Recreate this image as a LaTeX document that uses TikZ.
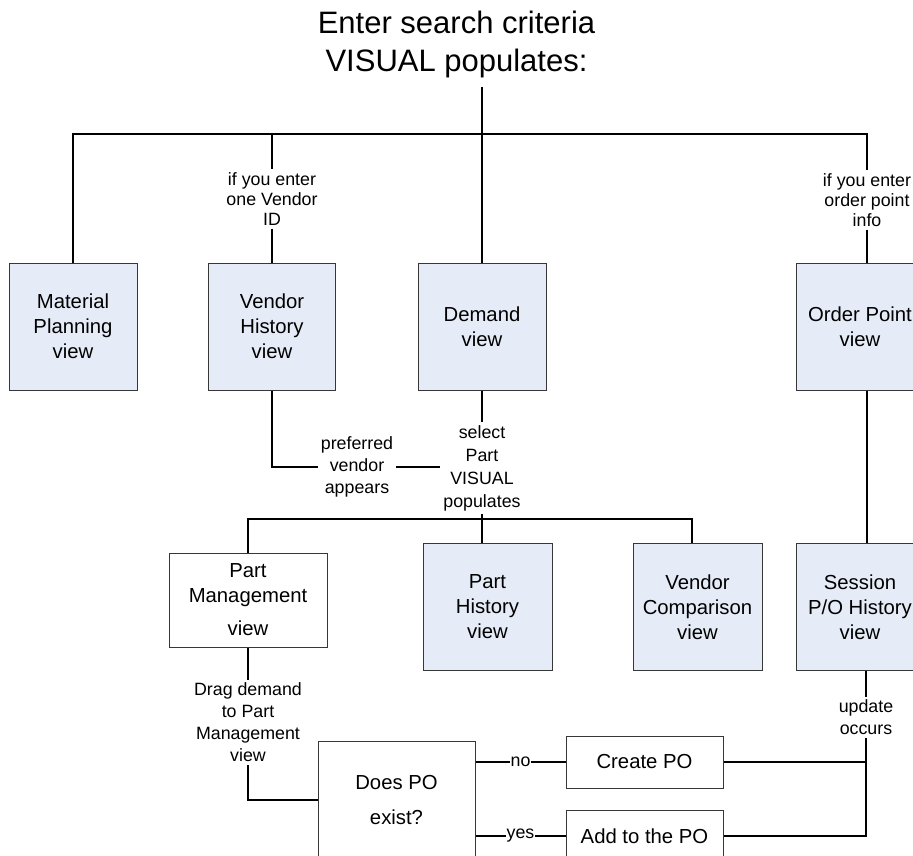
\documentclass[tikz,border=0pt]{standalone}
\usepackage{fontspec}
\setmainfont{Liberation Sans}
\definecolor{boxfill}{RGB}{230,236,247}
\definecolor{boxline}{RGB}{55,55,55}
\tikzset{
  viewbox/.style={draw=boxline, line width=1pt, fill=boxfill, minimum width=128pt,
    minimum height=127pt, align=center, inner sep=0pt, font=\fontsize{20.3}{25}\selectfont},
  whitebox/.style={draw=boxline, line width=1pt, fill=white, align=center, inner sep=0pt,
    font=\fontsize{20.3}{25}\selectfont},
  lbl/.style={align=center, inner sep=3pt, font=\fontsize{17.8}{22}\selectfont},
  toplbl/.style={lbl, font=\fontsize{17.8}{20}\selectfont},
  edgelbl/.style={fill=white, inner sep=1pt, font=\fontsize{17.8}{20}\selectfont},
  conn/.style={line width=1.7pt, black}
}
\begin{document}
\begin{tikzpicture}[x=1pt, y=-1pt]
\useasboundingbox (0,0) rectangle (913,856);
\clip (0,0) rectangle (913,856);

% title
\node[align=center, inner sep=0pt, font=\fontsize{31}{38}\selectfont] (title) at (456.5,44)
  {Enter search criteria\\VISUAL populates:};
\coordinate (t0) at (482,87);
\coordinate (j0) at (482,134);
\coordinate (bl) at (73,134);
\coordinate (jv) at (272,134);
\coordinate (br) at (867,134);

% top row
\node[viewbox] (mp) at (73,326.5) {Material\\Planning\\view};
\node[viewbox, minimum width=127pt] (vh) at (272,326.5) {Vendor\\History\\view};
\node[viewbox] (dm) at (482,326.5) {Demand\\view};
\node[viewbox] (op) at (860,326.5) {Order Point\\view};

\node[toplbl] (lvh) at (272,199) {if you enter\\one Vendor\\ID};
\node[toplbl] (lop) at (867,200) {if you enter\\order point\\info};

% middle labels
\node[lbl] (lpv) at (357,467) {preferred\\vendor\\appears};
\node[lbl, font=\fontsize{17.8}{23}\selectfont] (lsp) at (482,468) {select\\Part\\VISUAL\\populates};
\coordinate (j2) at (482,519);
\coordinate (b2l) at (248,519);
\coordinate (b2r) at (692,519);

% second row
\node[whitebox, minimum width=158pt, minimum height=94pt] (pm) at (248,600)
  {Part\\Management\\[8pt]view};
\node[viewbox, minimum width=129pt] (ph) at (487.5,607) {Part\\History\\view};
\node[viewbox, minimum width=129pt] (vc) at (697.5,607) {Vendor\\Comparison\\view};
\node[viewbox] (ss) at (860,607) {Session\\P/O History\\view};

% bottom
\node[lbl] (ldr) at (248,722.5) {Drag demand\\to Part\\Management\\view};
\node[lbl] (lup) at (866,717.5) {update\\occurs};
\node[whitebox, minimum width=157pt, minimum height=118pt] (dp) at (396.5,800)
  {Does PO\\[10pt]exist?};
\node[whitebox, minimum width=157pt, minimum height=52pt] (cp) at (644.5,762) {Create PO};
\node[whitebox, minimum width=157pt, minimum height=52pt] (ap) at (644.5,836) {Add to the PO};

% connectors: top
\draw[conn] (t0) -- (j0);
\draw[conn] (mp.north) |- (br) -- (lop.north);
\draw[conn] (lop.south) -- (br |- op.north);
\draw[conn] (jv) -- (lvh.north);
\draw[conn] (lvh.south) -- (vh.north);
\draw[conn] (j0) -- (dm.north);

% middle
\draw[conn] (vh.south) |- (lpv.west);
\draw[conn] (lpv.east) -- (lpv.east -| lsp.west);
\draw[conn] (dm.south) -- (lsp.north);
\draw[conn] (lsp.south) -- (j2);
\draw[conn] (pm.north) |- (b2r) -- (b2r |- vc.north);
\draw[conn] (j2) -- (j2 |- ph.north);
\draw[conn] (br |- op.south) -- (br |- ss.north);

% bottom
\draw[conn] (pm.south) -- (ldr.north);
\draw[conn] (ldr.south) |- (dp.west);
\draw[conn] (dp.east |- cp.west) -- node[edgelbl] {no} (cp.west);
\draw[conn] (dp.east |- ap.west) -- node[edgelbl] {yes} (ap.west);
\draw[conn] (lup.north |- ss.south) -- (lup.north);
\draw[conn] (lup.south) |- (ap.east);
\draw[conn] (cp.east) -- (cp.east -| lup.south);
\end{tikzpicture}
\end{document}
